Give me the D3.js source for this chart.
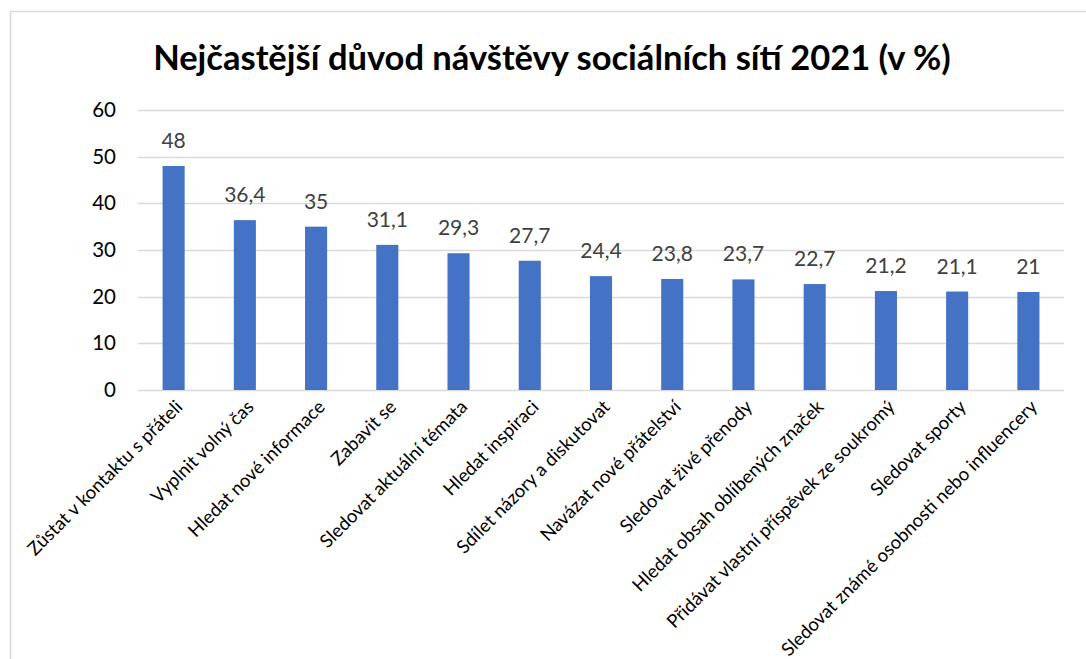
<!DOCTYPE html>
<html>
<head>
<meta charset="utf-8">
<script src="https://cdn.jsdelivr.net/npm/d3@7/dist/d3.min.js"></script>
<style>
  html, body { margin: 0; padding: 0; background: #fff; }
  svg { display: block; font-family: Lato, "Open Sans", sans-serif; }
</style>
</head>
<body>
<svg id="chart" width="1086" height="659"></svg>
<script>
// Reasons for visiting social networks, 2021 (percent of respondents)
const categories = [
  "Zůstat v kontaktu s přáteli",
  "Vyplnit volný čas",
  "Hledat nové informace",
  "Zabavit se",
  "Sledovat aktuální témata",
  "Hledat inspiraci",
  "Sdílet názory a diskutovat",
  "Navázat nové přátelství",
  "Sledovat živé přenody",
  "Hledat obsah oblíbených značek",
  "Přidávat vlastní příspěvek ze soukromý",
  "Sledovat sporty",
  "Sledovat známé osobnosti nebo influencery"
];
const values = [48, 36.4, 35, 31.1, 29.3, 27.7, 24.4, 23.8, 23.7, 22.7, 21.2, 21.1, 21];
const yTicks = [0, 10, 20, 30, 40, 50, 60];
const title = "Nejčastější důvod návštěvy sociálních sítí 2021 (v %)";

const svg = d3.select("#chart");
const W = 1086, H = 659;
const plot = { left: 138, right: 1064, top: 110, bottom: 390 };

// Chart area frame (top and left edges visible)
svg.append("path")
  .attr("d", `M10.5,${H} L10.5,11.5 L${W},11.5`)
  .attr("fill", "none")
  .attr("stroke", "#d9d9d9")
  .attr("stroke-width", 1.5);

svg.append("text")
  .attr("x", 552)
  .attr("y", 70)
  .attr("text-anchor", "middle")
  .attr("font-size", 34.5)
  .attr("font-weight", "bold")
  .attr("fill", "#000")
  .text(title);

const x = d3.scaleBand()
  .domain(categories)
  .range([plot.left, plot.right])
  .paddingInner(0.69)
  .paddingOuter(0.345);

const y = d3.scaleLinear()
  .domain([0, 60])
  .range([plot.bottom, plot.top]);

// Horizontal gridlines
svg.append("g")
  .selectAll("line")
  .data(yTicks)
  .join("line")
  .attr("x1", plot.left)
  .attr("x2", plot.right)
  .attr("y1", d => Math.round(y(d)) + 0.5)
  .attr("y2", d => Math.round(y(d)) + 0.5)
  .attr("stroke", "#d9d9d9")
  .attr("stroke-width", 1.5);

// Y axis labels
const yAxis = d3.axisLeft(y).tickValues(yTicks).tickSize(0).tickPadding(0);
const yg = svg.append("g")
  .attr("transform", `translate(116,0)`)
  .call(yAxis);
yg.select(".domain").remove();
yg.selectAll("text")
  .attr("font-size", 20.5)
  .attr("font-family", "Lato, 'Open Sans', sans-serif")
  .attr("fill", "#000");

// Bars
svg.append("g")
  .selectAll("rect")
  .data(values)
  .join("rect")
  .attr("x", (d, i) => x(categories[i]))
  .attr("y", d => y(d))
  .attr("width", x.bandwidth())
  .attr("height", d => y(0) - y(d))
  .attr("fill", "#4472c4");

// Value labels above bars
const fmt = v => String(v).replace(".", ",");
svg.append("g")
  .selectAll("text")
  .data(values)
  .join("text")
  .attr("x", (d, i) => x(categories[i]) + x.bandwidth() / 2)
  .attr("y", d => y(d) - 18)
  .attr("text-anchor", "middle")
  .attr("font-size", 21)
  .attr("fill", "#404040")
  .text(fmt);

// Rotated category labels
const xAxis = d3.axisBottom(x).tickSize(0).tickPadding(0);
const xg = svg.append("g")
  .attr("transform", `translate(0,${plot.bottom})`)
  .call(xAxis);
xg.select(".domain").remove();
xg.selectAll("text")
  .attr("font-size", 18.5)
  .attr("font-family", "Lato, 'Open Sans', sans-serif")
  .attr("fill", "#000")
  .attr("text-anchor", "end")
  .attr("dy", null)
  .attr("y", 0)
  .attr("transform", "translate(10,18) rotate(-45)");
</script>
</body>
</html>
